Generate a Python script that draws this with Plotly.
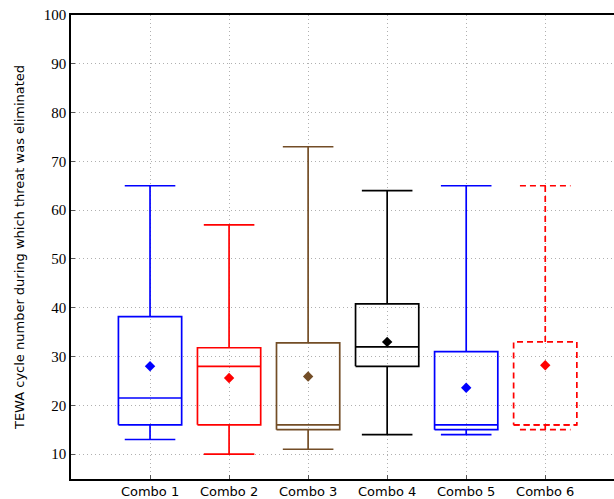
import plotly.graph_objects as go

categories = ["Combo 1", "Combo 2", "Combo 3", "Combo 4", "Combo 5", "Combo 6"]
lower_whisker = [13, 10, 11, 14, 14, 15]
q1 = [16, 16, 15, 28, 15, 16]
median = [21.5, 28, 16, 32, 16, 16]
q3 = [38.2, 31.8, 32.8, 40.8, 31, 33]
upper_whisker = [65, 57, 73, 64, 65, 65]
means = [28, 25.6, 25.9, 33, 23.6, 28.2]
colors = ["#0000ff", "#ff0000", "#734d26", "#000000", "#0000ff", "#ff0000"]
dashes = ["solid", "solid", "solid", "solid", "solid", "6px,4px"]
y_ticks = [10, 20, 30, 40, 50, 60, 70, 80, 90, 100]

BOX_HW = 0.4
CAP_HW = 0.32

fig = go.Figure()
for i, name in enumerate(categories):
    x = i + 1
    xs = [x - BOX_HW, x + BOX_HW, x + BOX_HW, x - BOX_HW, x - BOX_HW, None,
          x - BOX_HW, x + BOX_HW, None,
          x, x, None, x - CAP_HW, x + CAP_HW, None,
          x, x, None, x - CAP_HW, x + CAP_HW]
    ys = [q1[i], q1[i], q3[i], q3[i], q1[i], None,
          median[i], median[i], None,
          q3[i], upper_whisker[i], None, upper_whisker[i], upper_whisker[i], None,
          q1[i], lower_whisker[i], None, lower_whisker[i], lower_whisker[i]]
    fig.add_trace(go.Scatter(x=xs, y=ys, mode="lines", showlegend=False,
                             line=dict(color=colors[i], width=1.7, dash=dashes[i]),
                             hoverinfo="skip"))
    fig.add_trace(go.Scatter(x=[x], y=[means[i]], mode="markers", showlegend=False,
                             marker=dict(symbol="diamond", size=8, color=colors[i])))

fig.update_layout(
    width=614, height=499,
    margin=dict(l=71, r=0, t=15, b=20, autoexpand=False),
    plot_bgcolor="white", paper_bgcolor="white",
    font=dict(family="DejaVu Sans", size=13, color="black"),
)
fig.update_xaxes(
    range=[0, 6.87], tickvals=list(range(1, len(categories) + 1)), ticktext=categories,
    showgrid=True, gridcolor="#b0b0b0", griddash="1px,3px", gridwidth=1,
    showline=True, linecolor="black", linewidth=1.5, mirror=True,
    ticks="inside", ticklen=4, tickcolor="#555555", zeroline=False,
    tickfont=dict(family="DejaVu Sans", size=13), automargin=False,
)
fig.update_yaxes(
    range=[4.9, 100], tickvals=y_ticks,
    showgrid=True, gridcolor="#b0b0b0", griddash="1px,3px", gridwidth=1,
    showline=True, linecolor="black", linewidth=1.5,
    ticks="inside", ticklen=4, tickcolor="#555555", zeroline=False,
    tickfont=dict(family="Liberation Serif", size=15), automargin=False,
    title=dict(text="TEWA cycle number during which threat was eliminated",
               font=dict(family="DejaVu Sans", size=13), standoff=16),
)
fig.write_html("out.html", post_script="document.body.style.margin='0';",
               config={"displayModeBar": False})
